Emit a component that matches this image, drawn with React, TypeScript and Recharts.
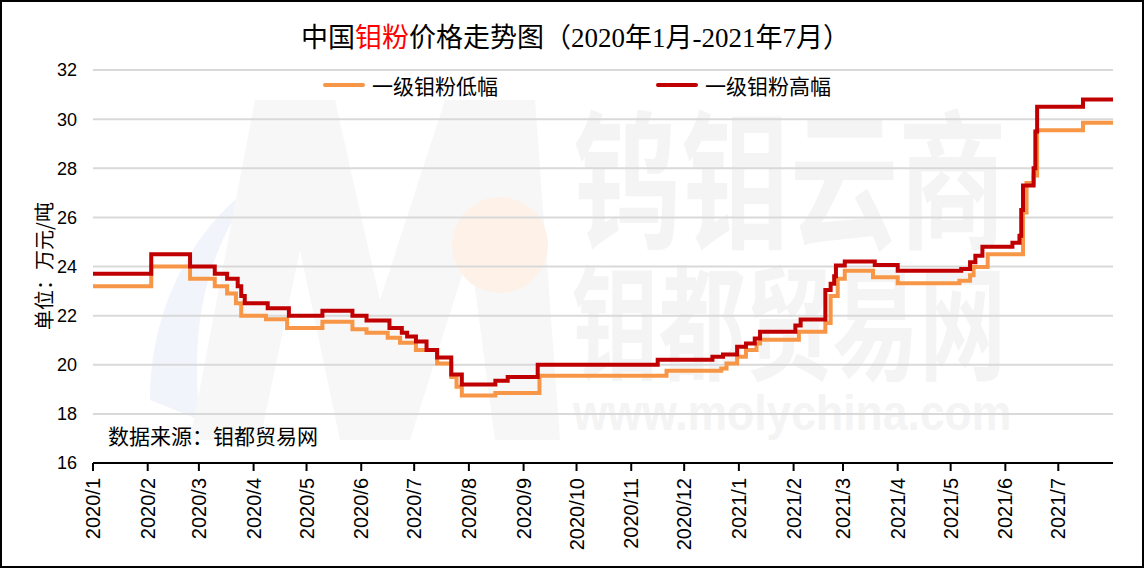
import { LineChart, Line, XAxis, YAxis, CartesianGrid, Legend } from 'recharts'

// day index counted from 2020-01-01
const monthDays = [0, 31, 60, 91, 121, 152, 182, 213, 244, 274, 305, 335, 366, 397, 425, 456, 486, 517, 547]
const monthLabels = [
  '2020/1', '2020/2', '2020/3', '2020/4', '2020/5', '2020/6', '2020/7', '2020/8', '2020/9', '2020/10',
  '2020/11', '2020/12', '2021/1', '2021/2', '2021/3', '2021/4', '2021/5', '2021/6', '2021/7',
]
const yTicks = [16, 18, 20, 22, 24, 26, 28, 30, 32]

const lowDays = [
  0, 33, 55, 69, 76, 81, 84, 98, 110, 130, 147, 155, 167, 174, 183, 195, 203, 206, 209, 228, 253,
  325, 356, 359, 365, 370, 376, 378, 400, 415, 418, 422, 426, 442, 456, 491, 497, 499, 507, 526,
  527, 529, 533, 535, 561, 578,
]
const lowPrices = [
  23.2, 24.0, 23.5, 23.2, 22.9, 22.5, 22.0, 21.85, 21.5, 21.75, 21.45, 21.3, 21.1, 20.9, 20.6, 20.05,
  19.5, 19.1, 18.75, 18.85, 19.55, 19.76, 19.85, 20.05, 20.33, 20.6, 20.87, 21.02, 21.34, 21.7, 22.8,
  23.5, 23.83, 23.56, 23.32, 23.42, 23.64, 23.98, 24.5, 24.5, 26.2, 27.4, 27.7, 29.55, 29.85, 29.85,
]

const highDays = [
  0, 33, 55, 69, 76, 82, 84, 86, 99, 111, 130, 147, 155, 168, 175, 178, 183, 189, 195, 203, 209, 228,
  235, 252, 320, 351, 357, 365, 370, 375, 378, 398, 401, 415, 418, 420, 421, 426, 443, 456, 492, 497,
  500, 504, 521, 525, 526, 527, 533, 534, 535, 561, 578,
]
const highPrices = [
  23.7, 24.5, 24.0, 23.7, 23.5, 23.2, 22.8, 22.5, 22.3, 22.0, 22.2, 22.0, 21.8, 21.5, 21.3, 21.15, 20.95,
  20.6, 20.3, 19.6, 19.2, 19.35, 19.5, 20.0, 20.2, 20.33, 20.42, 20.73, 20.87, 21.07, 21.34, 21.6, 21.84,
  23.04, 23.3, 23.6, 24.04, 24.2, 24.06, 23.83, 23.9, 24.17, 24.44, 24.8, 24.97, 25.25, 26.3, 27.3, 28.0,
  29.5, 30.5, 30.8, 30.8,
]

const lowData = lowDays.map((d, i) => ({ day: d, value: lowPrices[i] }))
const highData = highDays.map((d, i) => ({ day: d, value: highPrices[i] }))

const LOW_COLOR = '#F79646'
const HIGH_COLOR = '#C00000'
const cjk = '"Noto Sans CJK SC", sans-serif'
const latin = '"Liberation Sans", Arial, sans-serif'

const MonthTick = ({ x, y, payload }: any) => (
  <text
    transform={`translate(${x + 7},${y + 5}) rotate(-90)`}
    textAnchor="end"
    fontSize={20}
    fontFamily={latin}
    fill="#000"
  >
    {monthLabels[monthDays.indexOf(payload.value)]}
  </text>
)

const legendX = [[323, 372], [656, 705]]

const LegendContent = ({ payload }: any) => (
  <div style={{ position: 'relative', width: 1144, height: 24 }}>
    {(payload || []).map((p: any, i: number) => (
      <div key={p.value}>
        <div
          style={{
            position: 'absolute', left: legendX[i][0], top: 10, width: 42, height: 4,
            borderRadius: 2, background: p.color,
          }}
        />
        <div
          style={{
            position: 'absolute', left: legendX[i][1], top: 0, fontSize: 21, lineHeight: '24px',
            fontFamily: cjk, color: '#000', whiteSpace: 'nowrap',
          }}
        >
          {p.value}
        </div>
      </div>
    ))}
  </div>
)

const UnitLabel = () => (
  <text
    transform="translate(52,266) rotate(-90)"
    textAnchor="middle"
    fontSize={20}
    fontFamily={cjk}
    fill="#000"
  >
    单位：万元/吨
  </text>
)

// faint logo and site name behind the plot
function Watermark() {
  return (
    <svg width={1144} height={568} style={{ position: 'absolute', left: 0, top: 0 }}>
      <path
        d="M150,400 C150,300 200,220 260,180 L245,200 C205,260 190,330 200,420 Z"
        fill="#f1f5fb"
      />
      <polygon
        points="190,440 255,100 335,100 380,300 445,100 535,100 560,440 495,440 470,250 410,440 340,440 300,250 260,440"
        fill="#f7f7f7"
      />
      <circle cx={500} cy={245} r={48} fill="#fdf1e8" />
      <text
        transform="translate(573,237) scale(0.723,1)" fontSize={150} fontWeight="bold"
        fontFamily={cjk} fill="#f4f4f4"
      >
        钨钼云商
      </text>
      <text
        transform="translate(572,370) scale(0.70,1)" fontSize={124} fontWeight="bold"
        fontFamily={cjk} fill="#f4f4f4"
      >
        钼都贸易网
      </text>
      <text
        transform="translate(573,430) scale(0.89,1)" fontSize={50} fontWeight="bold"
        fontFamily={latin} fill="#f4f4f4"
      >
        www.molychina.com
      </text>
    </svg>
  )
}

export default function App() {
  return (
    <div style={{ position: 'absolute', left: 0, top: 0, width: 1144, height: 568, background: '#fff' }}>
      <Watermark />
      <div
        style={{
          position: 'absolute', left: 301, top: 22, fontSize: 27, lineHeight: '32px', whiteSpace: 'nowrap',
          fontFamily: '"Liberation Serif", "Noto Sans CJK SC", serif', color: '#000',
        }}
      >
        中国<span style={{ color: '#FF0000' }}>钼粉</span>价格走势图（2020年1月-2021年7月）
      </div>
      <div
        style={{
          position: 'absolute', left: 108, top: 421, fontSize: 21, lineHeight: '28px',
          fontFamily: cjk, color: '#000', whiteSpace: 'nowrap',
        }}
      >
        数据来源：钼都贸易网
      </div>
      <div style={{ position: 'absolute', left: 0, top: 0 }}>
        <LineChart width={1144} height={568} margin={{ top: 46, right: 31, bottom: 0, left: 0 }}>
          <CartesianGrid horizontal vertical={false} stroke="#d9d9d9" strokeWidth={2} />
          <XAxis
            dataKey="day"
            type="number"
            domain={[0, 578]}
            ticks={monthDays}
            interval={0}
            height={105}
            tick={<MonthTick />}
            tickSize={8}
            axisLine={{ stroke: '#000', strokeWidth: 2 }}
            tickLine={{ stroke: '#000', strokeWidth: 2 }}
          />
          <YAxis
            type="number"
            domain={[16, 32]}
            ticks={yTicks}
            width={93}
            axisLine={false}
            tickLine={false}
            tickSize={0}
            tickMargin={16}
            tick={{ fill: '#000', fontSize: 18, fontFamily: latin }}
            label={{ content: <UnitLabel /> }}
          />
          <Legend
            verticalAlign="top"
            content={<LegendContent />}
            wrapperStyle={{ position: 'absolute', top: 73, left: 0, width: 1144, height: 24 }}
          />
          <Line
            data={lowData}
            dataKey="value"
            name="一级钼粉低幅"
            type="stepAfter"
            stroke={LOW_COLOR}
            strokeWidth={4}
            dot={false}
            isAnimationActive={false}
          />
          <Line
            data={highData}
            dataKey="value"
            name="一级钼粉高幅"
            type="stepAfter"
            stroke={HIGH_COLOR}
            strokeWidth={4}
            dot={false}
            isAnimationActive={false}
          />
        </LineChart>
      </div>
      <div
        style={{
          position: 'absolute', left: 0, top: 0, width: 1144, height: 568, boxSizing: 'border-box',
          border: '2px solid #000', pointerEvents: 'none',
        }}
      />
    </div>
  )
}
